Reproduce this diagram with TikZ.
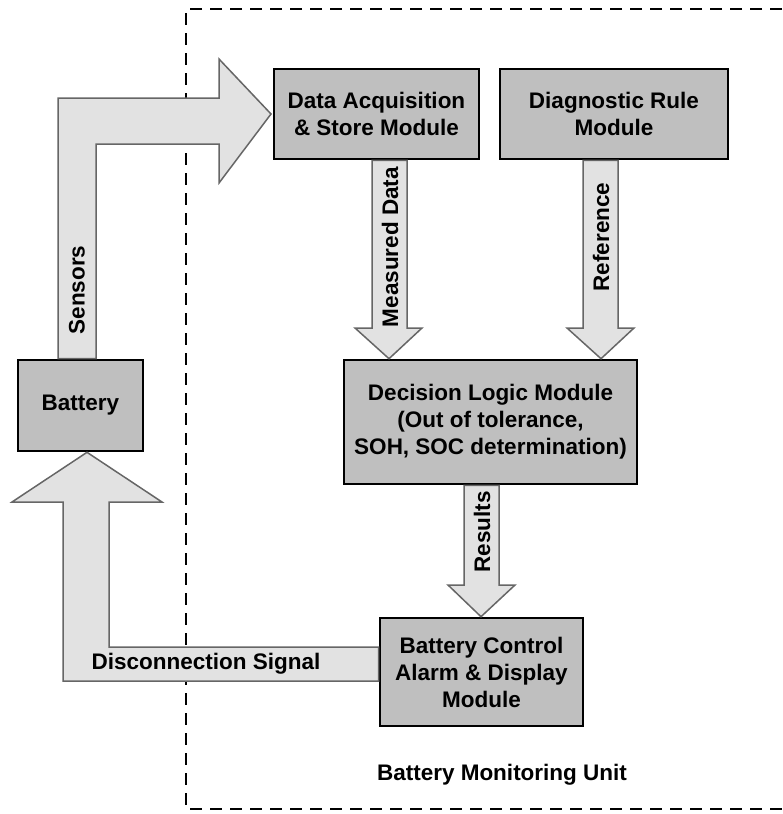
\documentclass[tikz,border=0pt]{standalone}
\usepackage{fontspec}
\setmainfont{Liberation Sans}
\usetikzlibrary{positioning}

\definecolor{modfill}{gray}{0.75}
\definecolor{flowfill}{gray}{0.885}
\definecolor{flowline}{gray}{0.40}

\begin{document}
\begin{tikzpicture}[
    x=1pt, y=-1pt,
    font=\fontsize{22.5}{27}\selectfont\bfseries,
    module/.style={draw=black, line width=2.6pt, fill=modfill, align=center, inner sep=0pt},
    flow/.style={draw=flowline, line width=1.5pt, fill=flowfill, line join=miter},
    flowlabel/.style={inner sep=0pt},
  ]
  \useasboundingbox (0,0) rectangle (782,814);

  % ============================================================
  % Unit boundary (open on the right)
  % ============================================================
  \draw[line width=2.6pt, dash pattern=on 12pt off 8pt]
    (782,9) -- (186,9) -- (186,809) -- (782,809);

  % ============================================================
  % Modules
  % ============================================================
  \node[module, minimum width=205pt, minimum height=90pt] (daq) at (376.5,114)
    {Data Acquisition\\\& Store Module};
  \node[module, minimum width=228pt, minimum height=90pt] (drm) at (614,114)
    {Diagnostic Rule\\Module};
  \node[module, minimum width=293pt, minimum height=124pt] (dlm) at (490.5,422)
    {Decision Logic Module\\(Out of tolerance,\\SOH, SOC determination)};
  \node[module, minimum width=203pt, minimum height=108pt] (bcm) at (481.5,672)
    {Battery Control\\Alarm \& Display\\Module};
  \node[module, minimum width=125pt, minimum height=91pt] (bat) at (80.5,405.5)
    {Battery};

  % ============================================================
  % Block arrows
  % ============================================================
  % Sensors: battery -> data acquisition
  \draw[flow] (58,0 |- bat.north) -- (58,98) -- (219,98) -- (219,59)
    -- (271,0 |- daq.west) -- (219,183) -- (219,144) -- (96,144)
    -- (96,0 |- bat.north) -- cycle;
  \node[flowlabel, rotate=90] (sens) at (77,290) {Sensors};

  % Measured data: acquisition -> decision logic
  \draw[flow] (372,0 |- daq.south) -- (372,328) -- (355,328)
    -- (389,0 |- dlm.north) -- (422,328) -- (407,328)
    -- (407,0 |- daq.south) -- cycle;
  \node[flowlabel, rotate=90] (meas) at (390,247) {Measured Data};

  % Reference: rule module -> decision logic
  \draw[flow] (583,0 |- drm.south) -- (583,328) -- (567,328)
    -- (601,0 |- dlm.north) -- (634,328) -- (618,328)
    -- (618,0 |- drm.south) -- cycle;
  \node[flowlabel, rotate=90] (ref) at (601,237) {Reference};

  % Results: decision logic -> control
  \draw[flow] (464,0 |- dlm.south) -- (464,585) -- (448,585)
    -- (481,0 |- bcm.north) -- (515,585) -- (499,585)
    -- (499,0 |- dlm.south) -- cycle;
  \node[flowlabel, rotate=90] (res) at (482,532) {Results};

  % Disconnection signal: control -> battery
  \draw[flow] (bcm.west |- 0,647) -- (109,647) -- (109,502) -- (162,502)
    -- (87,0 |- bat.south) -- (12,502) -- (63,502) -- (63,681)
    -- (bcm.west |- 0,681) -- cycle;
  \node[flowlabel] (disc) at (206,664) {Disconnection Signal};

  % Unit caption
  \node (unit) at (502,775) {Battery Monitoring Unit};

\end{tikzpicture}
\end{document}
